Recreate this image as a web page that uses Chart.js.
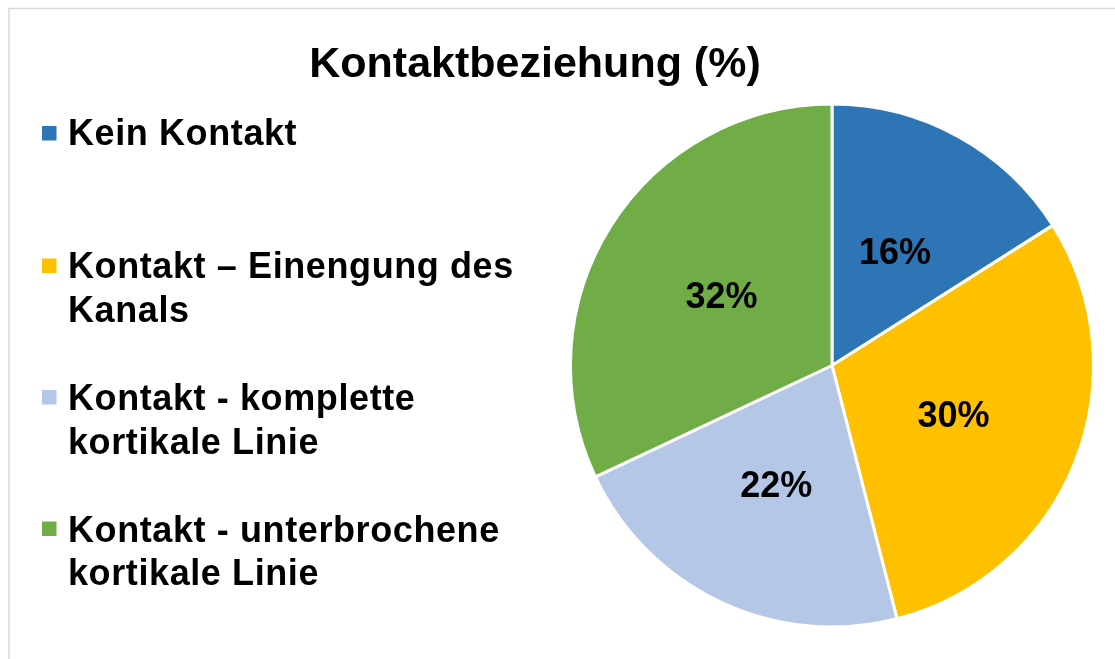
<!DOCTYPE html>
<html>
<head>
<meta charset="utf-8">
<script src="https://cdn.jsdelivr.net/npm/chart.js@4/dist/chart.umd.min.js"></script>
<style>
  html, body { margin: 0; padding: 0; background: #ffffff; }
  #wrap { position: relative; width: 1115px; height: 659px; }
</style>
</head>
<body>
<div id="wrap"><canvas id="chart" width="1115" height="659"></canvas></div>
<script>
// Categories (legend lines) and shares in percent
const categories = [
  ['Kein Kontakt'],
  ['Kontakt \u2013 Einengung des', 'Kanals'],
  ['Kontakt - komplette', 'kortikale Linie'],
  ['Kontakt - unterbrochene', 'kortikale Linie']
];
const shares = [16, 30, 22, 32];
const sliceColors = ['#2e75b6', '#ffc000', '#b4c7e7', '#70ad47'];
const chartTitle = 'Kontaktbeziehung (%)';

const FONT = '"Liberation Sans", Arial, sans-serif';

// Frame, title, side legend and percentage labels
const decorations = {
  id: 'decorations',
  beforeDraw(chart) {
    const ctx = chart.ctx;
    ctx.save();
    ctx.fillStyle = '#ffffff';
    ctx.fillRect(0, 0, chart.width, chart.height);
    ctx.strokeStyle = '#d9d9d9';
    ctx.lineWidth = 1.5;
    ctx.strokeRect(9, 8.5, chart.width + 20, chart.height + 20);
    ctx.restore();
  },
  afterDraw(chart) {
    const ctx = chart.ctx;
    ctx.save();
    ctx.textBaseline = 'alphabetic';

    // title
    ctx.fillStyle = '#000000';
    ctx.font = 'bold 43px ' + FONT;
    ctx.textAlign = 'center';
    ctx.fillText(chartTitle, 535, 77);

    // legend: square marker + wrapped bold text
    const firstBaselines = [145, 278, 410, 541.5];
    const markerCentres = [133, 265.5, 397, 528.5];
    const lineGap = 43.5;
    ctx.font = 'bold 36px ' + FONT;
    ctx.letterSpacing = '0.6px';
    ctx.textAlign = 'left';
    categories.forEach((lines, i) => {
      ctx.fillStyle = sliceColors[i];
      ctx.fillRect(42, markerCentres[i] - 7, 14.5, 14.5);
      ctx.fillStyle = '#000000';
      lines.forEach((line, j) => {
        ctx.fillText(line, 68, firstBaselines[i] + j * lineGap);
      });
    });
    ctx.letterSpacing = '0px';

    // percentage labels at slice centres
    const meta = chart.getDatasetMeta(0);
    ctx.font = 'bold 36px ' + FONT;
    ctx.textAlign = 'center';
    meta.data.forEach((arc, i) => {
      const p = arc.getCenterPoint();
      ctx.fillStyle = '#000000';
      ctx.fillText(shares[i] + '%', p.x, p.y + 13);
    });
    ctx.restore();
  }
};

new Chart(document.getElementById('chart'), {
  type: 'pie',
  data: {
    labels: categories.map(l => l.join(' ')),
    datasets: [{
      data: shares,
      backgroundColor: sliceColors,
      borderColor: '#ffffff',
      borderWidth: 3
    }]
  },
  options: {
    responsive: false,
    animation: false,
    layout: { padding: { left: 569, right: 20, top: 102, bottom: 30 } },
    plugins: {
      legend: { display: false },
      title: { display: false },
      tooltip: { enabled: false }
    }
  },
  plugins: [decorations]
});
</script>
</body>
</html>
